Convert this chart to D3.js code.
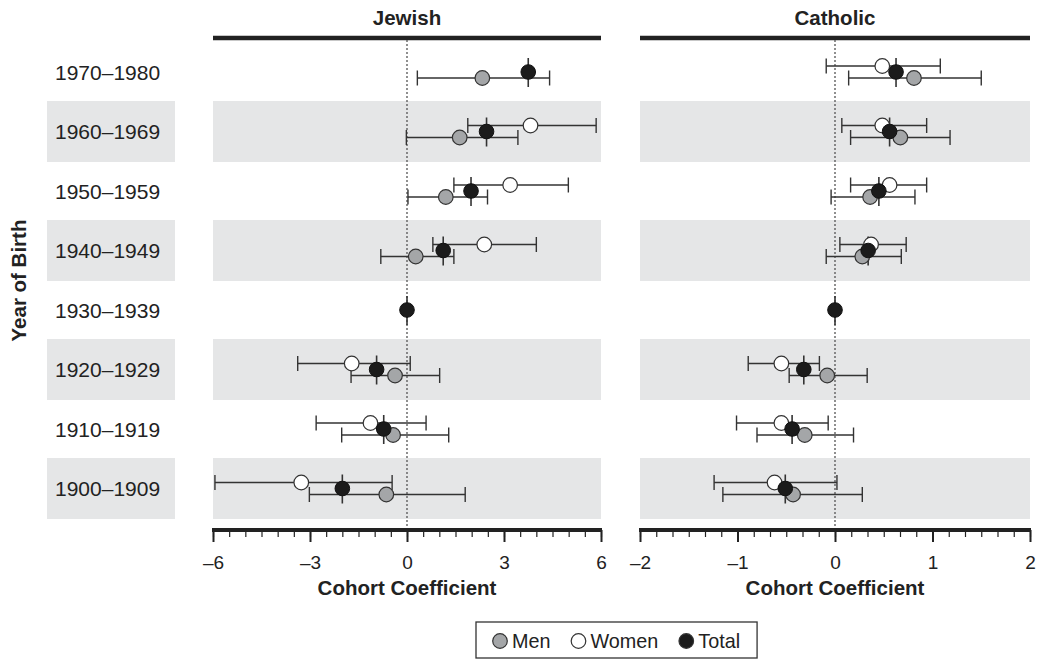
<!DOCTYPE html>
<html>
<head>
<meta charset="utf-8">
<script src="https://cdn.jsdelivr.net/npm/d3@7"></script>
<style>
  html, body { margin: 0; padding: 0; background: #fff; }
  svg { display: block; font-family: "Liberation Sans", Arial, Helvetica, sans-serif; }
</style>
</head>
<body>
<svg id="chart" width="1039" height="659"></svg>
<script>
// Birth cohorts, top to bottom
const cohorts = ["1970–1980", "1960–1969", "1950–1959", "1940–1949",
                 "1930–1939", "1920–1929", "1910–1919", "1900–1909"];

// Each entry: [estimate, lower bound, upper bound]; null = not estimated (reference cohort / missing)
const jewishMen = [[2.33, 0.32, 4.41], [1.63, -0.02, 3.43], [1.20, 0.03, 2.49], [0.27, -0.81, 1.45],
                   null, [-0.37, -1.73, 1.01], [-0.43, -2.02, 1.29], [-0.64, -3.02, 1.80]];
const jewishWomen = [null, [3.82, 1.88, 5.85], [3.19, 1.45, 4.99], [2.39, 0.80, 4.00],
                     null, [-1.71, -3.38, 0.10], [-1.13, -2.81, 0.59], [-3.27, -5.94, -0.46]];
const jewishTotal = [3.75, 2.46, 1.98, 1.12, 0, -0.94, -0.72, -2.00];

const catholicMen = [[0.81, 0.14, 1.50], [0.67, 0.16, 1.18], [0.36, -0.04, 0.82], [0.28, -0.09, 0.68],
                     null, [-0.08, -0.47, 0.33], [-0.31, -0.80, 0.19], [-0.43, -1.15, 0.28]];
const catholicWomen = [[0.485, -0.09, 1.08], [0.485, 0.07, 0.94], [0.56, 0.16, 0.94], [0.37, 0.05, 0.73],
                       null, [-0.55, -0.89, -0.16], [-0.55, -1.01, -0.07], [-0.62, -1.24, 0.02]];
const catholicTotal = [0.626, 0.56, 0.45, 0.34, 0, -0.32, -0.44, -0.51];

const jewishTicks = [-6, -3, 0, 3, 6];
const jewishTickLabels = ["–6", "–3", "0", "3", "6"];
const catholicTicks = [-2, -1, 0, 1, 2];
const catholicTickLabels = ["–2", "–1", "0", "1", "2"];

const panelTitles = ["Jewish", "Catholic"];
const seriesNames = ["Men", "Women", "Total"];
const seriesFill = { Men: "#a4a6a8", Women: "#ffffff", Total: "#1b1b1b" };

const svg = d3.select("#chart");
const ink = "#222";
const bandFill = "#e5e6e7";

const y = d3.scaleBand().domain(cohorts).range([42.25, 518.25]);
const rowC = c => y(c) + y.bandwidth() / 2;

const panels = [
  { title: panelTitles[0], x: d3.scaleLinear().domain([-6, 6]).range([213, 601]),
    ticks: jewishTicks, labels: jewishTickLabels, minorStep: 0.5,
    men: jewishMen, women: jewishWomen, total: jewishTotal },
  { title: panelTitles[1], x: d3.scaleLinear().domain([-2, 2]).range([640, 1030]),
    ticks: catholicTicks, labels: catholicTickLabels, minorStep: 1 / 6,
    men: catholicMen, women: catholicWomen, total: catholicTotal }
];

// Row labels with alternating shaded boxes
const labelG = svg.append("g");
cohorts.forEach((c, i) => {
  if (i % 2 === 1) {
    labelG.append("rect").attr("x", 47).attr("width", 128)
      .attr("y", y(c) - 0.75).attr("height", y.bandwidth() + 1.5).attr("fill", bandFill);
  }
  labelG.append("text").attr("x", 55).attr("y", rowC(c)).attr("dy", "0.36em")
    .attr("font-size", 21).attr("fill", ink).text(c);
});

svg.append("text")
  .attr("transform", `translate(26,${rowC(cohorts[3]) + 30}) rotate(-90)`)
  .attr("text-anchor", "middle").attr("font-weight", "bold").attr("font-size", 20.5)
  .attr("fill", ink).text("Year of Birth");

const offW = -6, offM = 6, cap = 7.5, r = 7.3;

panels.forEach(p => {
  const g = svg.append("g");
  const [x0, x1] = p.x.range();

  // shaded rows
  cohorts.forEach((c, i) => {
    if (i % 2 === 1) {
      g.append("rect").attr("x", x0).attr("width", x1 - x0)
        .attr("y", y(c) - 0.75).attr("height", y.bandwidth() + 1.5).attr("fill", bandFill);
    }
  });

  // strip title
  g.append("text").attr("x", (x0 + x1) / 2).attr("y", 25).attr("text-anchor", "middle")
    .attr("font-weight", "bold").attr("font-size", 20.5).attr("fill", ink).text(p.title);
  g.append("line").attr("x1", x0).attr("x2", x1).attr("y1", 38).attr("y2", 38)
    .attr("stroke", ink).attr("stroke-width", 4.5);

  // zero reference line
  g.append("line").attr("x1", p.x(0)).attr("x2", p.x(0)).attr("y1", 40).attr("y2", 528)
    .attr("stroke", "#555").attr("stroke-width", 1.3).attr("stroke-dasharray", "2,2");

  // bottom axis: heavy baseline, major and minor ticks
  const axisY = 530;
  const nMinor = Math.round((p.x.domain()[1] - p.x.domain()[0]) / p.minorStep);
  const minor = d3.range(nMinor + 1).map(k => p.x.domain()[0] + k * p.minorStep);
  const minorAxis = d3.axisBottom(p.x).tickValues(minor).tickSize(7).tickFormat("");
  const gm = g.append("g").attr("transform", `translate(0,${axisY})`).call(minorAxis);
  gm.select(".domain").remove();
  gm.selectAll(".tick line").attr("stroke", ink).attr("stroke-width", 1.2);

  const majorAxis = d3.axisBottom(p.x).tickValues(p.ticks).tickSize(12).tickPadding(14)
    .tickFormat((d, i) => p.labels[i]);
  const ga = g.append("g").attr("transform", `translate(0,${axisY})`).call(majorAxis);
  ga.select(".domain").remove();
  ga.selectAll(".tick line").attr("stroke", ink).attr("stroke-width", 2);
  ga.selectAll(".tick text").attr("font-size", 19).attr("fill", ink)
    .attr("font-family", "Liberation Sans, Arial, sans-serif");
  g.append("line").attr("x1", x0 - 1).attr("x2", x1 + 1).attr("y1", axisY).attr("y2", axisY)
    .attr("stroke", ink).attr("stroke-width", 4);

  g.append("text").attr("x", (x0 + x1) / 2).attr("y", 595).attr("text-anchor", "middle")
    .attr("font-weight", "bold").attr("font-size", 20.5).attr("fill", ink).text("Cohort Coefficient");

  // error bars
  const bars = [];
  cohorts.forEach((c, i) => {
    if (p.men[i]) bars.push({ s: "Men", c, v: p.men[i], dy: offM });
    if (p.women[i]) bars.push({ s: "Women", c, v: p.women[i], dy: offW });
  });
  const barG = g.append("g").attr("stroke", "#333").attr("stroke-width", 1.4).attr("fill", "none");
  bars.forEach(b => {
    const yy = rowC(b.c) + b.dy;
    barG.append("line").attr("x1", p.x(b.v[1])).attr("x2", p.x(b.v[2])).attr("y1", yy).attr("y2", yy);
    [b.v[1], b.v[2]].forEach(v => {
      barG.append("line").attr("x1", p.x(v)).attr("x2", p.x(v)).attr("y1", yy - cap).attr("y2", yy + cap);
    });
  });
  // vertical marker through each total estimate
  cohorts.forEach((c, i) => {
    g.append("line").attr("x1", p.x(p.total[i])).attr("x2", p.x(p.total[i]))
      .attr("y1", rowC(c) - 14).attr("y2", rowC(c) + 15)
      .attr("stroke", "#333").attr("stroke-width", 1.6);
  });

  // points: men, then women, then total on top
  bars.filter(b => b.s === "Men").forEach(b => {
    g.append("circle").attr("cx", p.x(b.v[0])).attr("cy", rowC(b.c) + b.dy).attr("r", r)
      .attr("fill", seriesFill.Men).attr("stroke", "#333").attr("stroke-width", 1.2);
  });
  bars.filter(b => b.s === "Women").forEach(b => {
    g.append("circle").attr("cx", p.x(b.v[0])).attr("cy", rowC(b.c) + b.dy).attr("r", r)
      .attr("fill", seriesFill.Women).attr("stroke", "#333").attr("stroke-width", 1.2);
  });
  cohorts.forEach((c, i) => {
    g.append("circle").attr("cx", p.x(p.total[i])).attr("cy", rowC(c)).attr("r", r)
      .attr("fill", seriesFill.Total).attr("stroke", "#111").attr("stroke-width", 1);
  });
});

// legend
const leg = svg.append("g");
const items = leg.append("g");
let cx = 500;
seriesNames.forEach(n => {
  items.append("circle").attr("cx", cx).attr("cy", 641).attr("r", 7.3)
    .attr("fill", seriesFill[n]).attr("stroke", "#333").attr("stroke-width", 1.2);
  const t = items.append("text").attr("x", cx + 12).attr("y", 641).attr("dy", "0.36em")
    .attr("font-size", 19.8).attr("fill", ink).text(n);
  cx += 12 + t.node().getComputedTextLength() + 28;
});
const bb = items.node().getBBox();
leg.insert("rect", ":first-child").attr("x", 476).attr("y", 622)
  .attr("width", bb.x + bb.width + 17 - 476).attr("height", 36)
  .attr("fill", "#fff").attr("stroke", "#333").attr("stroke-width", 1.3);
</script>
</body>
</html>
